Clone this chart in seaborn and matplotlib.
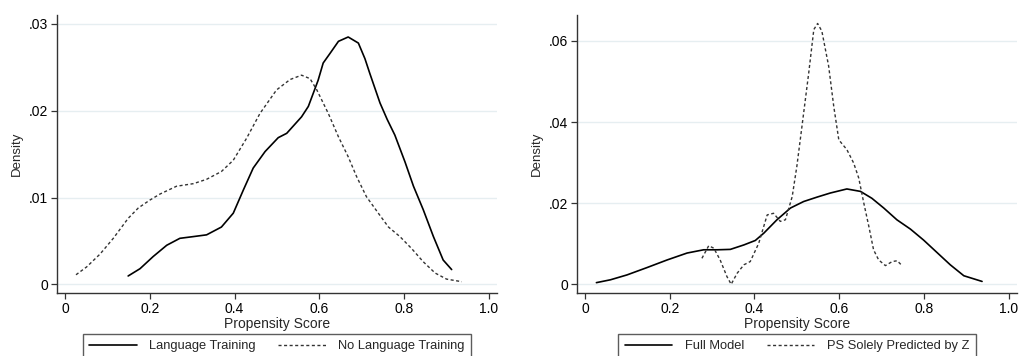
import numpy as np
import pandas as pd
import matplotlib
matplotlib.use("Agg")
import matplotlib.pyplot as plt
import seaborn as sns

# Kernel density of propensity scores, treated vs. untreated
lt_x = [0.149, 0.177, 0.208, 0.240, 0.271, 0.303, 0.334, 0.369, 0.397, 0.421,
        0.444, 0.472, 0.503, 0.523, 0.558, 0.574, 0.597, 0.609, 0.625, 0.645,
        0.668, 0.692, 0.7075, 0.719, 0.743, 0.760, 0.778, 0.802, 0.822, 0.845,
        0.869, 0.892, 0.912]
lt_y = [0.00096, 0.0018, 0.0032, 0.0045, 0.0053, 0.0055, 0.0057, 0.0066, 0.0082, 0.0109,
        0.0134, 0.0153, 0.0169, 0.0174, 0.0193, 0.0205, 0.0235, 0.0255, 0.0266, 0.0280,
        0.0285, 0.0278, 0.0260, 0.0243, 0.0209, 0.0190, 0.0172, 0.0141, 0.0113, 0.0086,
        0.0055, 0.0028, 0.0017]

nlt_x = [0.026, 0.051, 0.083, 0.114, 0.149, 0.173, 0.200, 0.224, 0.263, 0.303,
         0.334, 0.369, 0.397, 0.428, 0.460, 0.499, 0.531, 0.558, 0.578, 0.594,
         0.621, 0.645, 0.668, 0.688, 0.711, 0.739, 0.763, 0.790, 0.818, 0.845,
         0.873, 0.900, 0.936]
nlt_y = [0.0011, 0.0020, 0.0035, 0.0053, 0.0076, 0.0088, 0.0097, 0.0104, 0.0113, 0.0116,
         0.0121, 0.0130, 0.0143, 0.0168, 0.0197, 0.0224, 0.0236, 0.0241, 0.0237, 0.0224,
         0.0197, 0.0170, 0.0147, 0.0124, 0.0101, 0.0082, 0.0066, 0.0055, 0.0041, 0.0026,
         0.0013, 0.0006, 0.0003]

# Full model vs. propensity score predicted by Z only
full_x = [0.027, 0.060, 0.099, 0.146, 0.194, 0.241, 0.280, 0.312, 0.343, 0.375,
          0.402, 0.422, 0.453, 0.485, 0.516, 0.548, 0.579, 0.618, 0.650, 0.677,
          0.705, 0.736, 0.768, 0.799, 0.831, 0.862, 0.894, 0.937]
full_y = [0.0004, 0.0011, 0.0023, 0.0041, 0.0060, 0.0077, 0.0085, 0.0085, 0.0086, 0.0097,
          0.0108, 0.0126, 0.0159, 0.0188, 0.0204, 0.0215, 0.0225, 0.0235, 0.0229, 0.0212,
          0.0188, 0.0159, 0.0136, 0.0109, 0.0078, 0.0048, 0.0021, 0.0007]

z_x = [0.276, 0.292, 0.304, 0.319, 0.335, 0.345, 0.359, 0.375, 0.390, 0.410,
       0.430, 0.445, 0.461, 0.473, 0.489, 0.500, 0.512, 0.528, 0.540, 0.549,
       0.559, 0.575, 0.587, 0.599, 0.618, 0.634, 0.646, 0.658, 0.670, 0.681,
       0.693, 0.709, 0.725, 0.737, 0.748]
z_y = [0.0064, 0.0095, 0.0089, 0.0060, 0.0019, 0.0000, 0.0027, 0.0048, 0.0056, 0.0101,
       0.0171, 0.0175, 0.0155, 0.0159, 0.0216, 0.0291, 0.0389, 0.0521, 0.0628, 0.0643,
       0.0624, 0.0538, 0.0439, 0.0356, 0.0332, 0.0299, 0.0262, 0.0200, 0.0142, 0.0085,
       0.0060, 0.0046, 0.0056, 0.0058, 0.0046]

x_ticks = [0, 0.2, 0.4, 0.6, 0.8, 1.0]
x_ticklabels = ["0", "0.2", "0.4", "0.6", "0.8", "1.0"]
left_yticks = [0, 0.01, 0.02, 0.03]
left_yticklabels = ["0", ".01", ".02", ".03"]
right_yticks = [0, 0.02, 0.04, 0.06]
right_yticklabels = ["0", ".02", ".04", ".06"]

left_labels = ["Language Training", "No Language Training"]
right_labels = ["Full Model", "PS Solely Predicted by Z"]

sns.set_theme(style="white")
plt.rcParams["font.family"] = ["Liberation Sans", "DejaVu Sans"]

SOLID = dict(color="black", linewidth=1.2, linestyle="-",
             solid_joinstyle="round", solid_capstyle="round")
DASH = dict(color="#333333", linewidth=1.0, linestyle=(0, (2.2, 1.8)),
            dash_joinstyle="round")
GRID = "#E6EEF1"
SPINE = "#333333"

fig = plt.figure(figsize=(10.19, 3.56), dpi=100)
ax1 = fig.add_axes([0.0559, 0.177, 0.4318, 0.781])
ax2 = fig.add_axes([0.5662, 0.177, 0.4316, 0.781])


def style_axis(ax, ylim, yticks, yticklabels):
    ax.set_xlim(-0.0189, 1.0189)
    ax.set_ylim(*ylim)
    ax.set_xticks(x_ticks)
    ax.set_xticklabels(x_ticklabels)
    ax.set_yticks(yticks)
    ax.set_yticklabels(yticklabels)
    for y in yticks:
        ax.axhline(y, color=GRID, linewidth=1.0, zorder=0)
    for side in ("top", "right"):
        ax.spines[side].set_visible(False)
    for side in ("left", "bottom"):
        ax.spines[side].set_color(SPINE)
        ax.spines[side].set_linewidth(1.0)
    ax.tick_params(axis="both", which="both", direction="out", length=4.5,
                   width=0.9, color=SPINE, labelsize=10, pad=2,
                   left=True, bottom=True, labelcolor="black")
    ax.set_xlabel("Propensity Score", fontsize=10, labelpad=1)
    ax.set_ylabel("Density", fontsize=9.5, labelpad=4)


def add_legend(ax, labels):
    handles = [plt.Line2D([], [], **SOLID), plt.Line2D([], [], **DASH)]
    leg = ax.legend(handles, labels, loc="upper center", bbox_to_anchor=(0.5, -0.147),
                    ncol=2, frameon=True, fancybox=False, fontsize=9.3,
                    handlelength=3.7, handletextpad=0.95, columnspacing=1.75,
                    borderpad=0.5, borderaxespad=0)
    leg.get_frame().set_edgecolor("#333333")
    leg.get_frame().set_linewidth(1.0)


left_df = pd.DataFrame({"score": lt_x + nlt_x, "density": lt_y + nlt_y,
                        "group": [left_labels[0]] * len(lt_x) + [left_labels[1]] * len(nlt_x)})
right_df = pd.DataFrame({"score": full_x + z_x, "density": full_y + z_y,
                         "group": [right_labels[0]] * len(full_x) + [right_labels[1]] * len(z_x)})

for ax, df, labels in ((ax1, left_df, left_labels), (ax2, right_df, right_labels)):
    for lab, kw in zip(labels, (SOLID, DASH)):
        sub = df[df["group"] == lab]
        sns.lineplot(data=sub, x="score", y="density", ax=ax, sort=False,
                     estimator=None, legend=False, zorder=3, **kw)

style_axis(ax1, (-0.0010, 0.03104), left_yticks, left_yticklabels)
style_axis(ax2, (-0.00215, 0.0664), right_yticks, right_yticklabels)
add_legend(ax1, left_labels)
add_legend(ax2, right_labels)

fig.savefig("out.png", dpi=100, facecolor="white")
